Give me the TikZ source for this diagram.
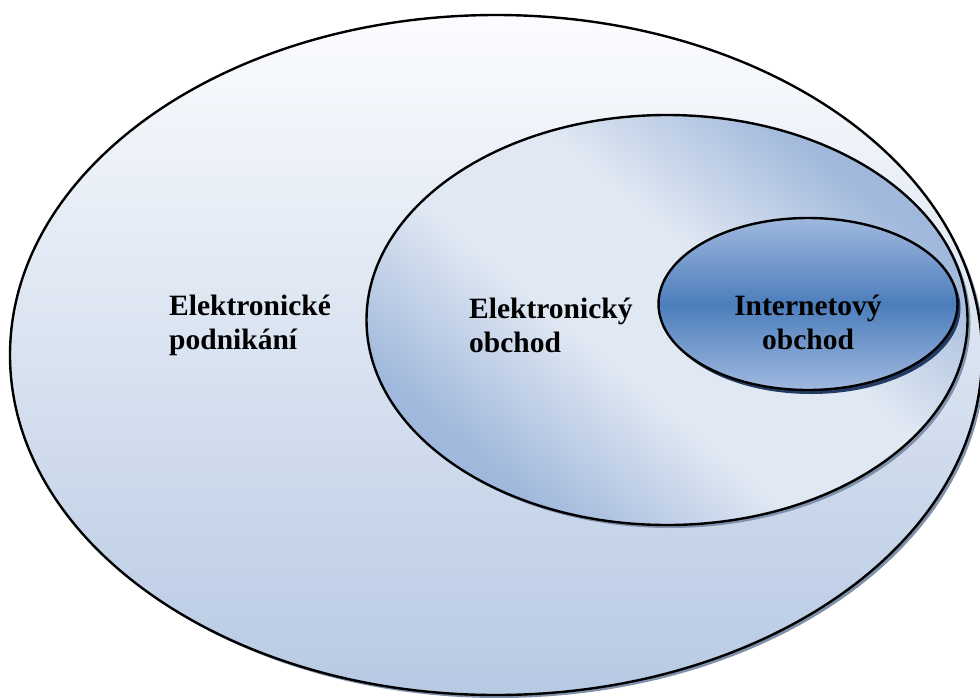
\documentclass[tikz,border=0pt]{standalone}
\usepackage{fontspec}
\setmainfont{Liberation Serif}
\usetikzlibrary{shapes.geometric,shadows}

\definecolor{paleTop}{RGB}{251,252,254}
\definecolor{paleBot}{RGB}{183,201,227}
\definecolor{midDark}{RGB}{160,184,219}
\definecolor{midLight}{RGB}{224,232,243}
\definecolor{coreEdge}{RGB}{160,184,222}
\definecolor{coreMid}{RGB}{76,126,188}
\definecolor{softShadow}{RGB}{128,145,172}
\definecolor{deepShadow}{RGB}{34,60,100}

% gradients: edge colour at 25bp and 75bp, middle colour around 50bp
\pgfdeclareverticalshading{paleshade}{100bp}{%
  color(0bp)=(paleBot); color(25bp)=(paleBot); color(75bp)=(paleTop); color(100bp)=(paleTop)}
\pgfdeclareverticalshading{midshade}{100bp}{%
  color(0bp)=(midDark); color(27bp)=(midDark); color(43bp)=(midLight);
  color(57bp)=(midLight); color(73bp)=(midDark); color(100bp)=(midDark)}
\pgfdeclareverticalshading{coreshade}{100bp}{%
  color(0bp)=(coreEdge); color(25bp)=(coreEdge); color(50bp)=(coreMid);
  color(75bp)=(coreEdge); color(100bp)=(coreEdge)}

\begin{document}
\begin{tikzpicture}[x=1pt,y=-1pt,
  blob/.style={ellipse, draw=black, line width=2.4pt, inner sep=0pt},
  lbl/.style={font=\fontsize{29.5}{34}\selectfont\bfseries, inner sep=0pt}]
\useasboundingbox (0,0) rectangle (980,697);

% outer set: electronic business
\node[blob, minimum width=972pt, minimum height=680pt, shading=paleshade,
      drop shadow={shadow xshift=3pt, shadow yshift=-3pt, fill=softShadow, opacity=1}]
      (outer) at (496,355) {};

% middle set: electronic commerce
\node[blob, minimum width=601pt, minimum height=410pt, shading=midshade, shading angle=-40,
      drop shadow={shadow xshift=3pt, shadow yshift=-3pt, fill=softShadow, opacity=1}]
      (middle) at (667,320) {};

% inner set: internet shop
\node[blob, minimum width=299pt, minimum height=172pt, shading=coreshade,
      drop shadow={shadow xshift=3pt, shadow yshift=-4pt, fill=deepShadow, opacity=1}]
      (inner) at (808,304) {};

% labels
\node[lbl, anchor=west, align=left] (outerlbl) at (169,325) {Elektronické\\podnikání};
\node[lbl, anchor=west, align=left] (middlelbl) at (469,325) {Elektronický\\obchod};
\node[lbl, align=center] (innerlbl) at (808,322) {Internetový\\obchod};
\end{tikzpicture}
\end{document}
